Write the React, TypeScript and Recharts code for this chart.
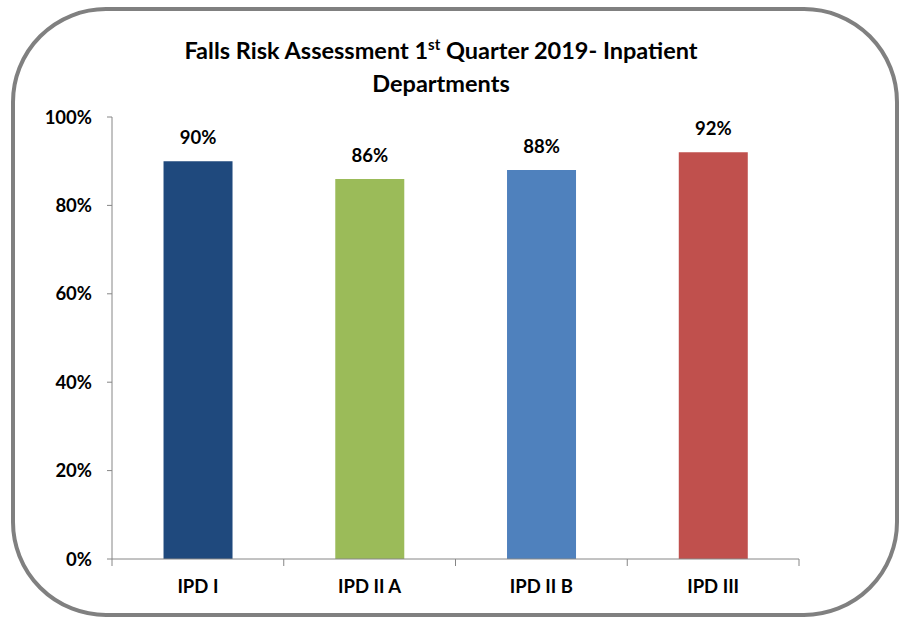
import { Bar, BarChart, XAxis, YAxis, Cell, LabelList } from "recharts"

const departments = ["IPD I", "IPD II A", "IPD II B", "IPD III"]
const compliance = [0.9, 0.86, 0.88, 0.92]
const yTicks = [0, 0.2, 0.4, 0.6, 0.8, 1]
const barColors = ["#1F497D", "#9BBB59", "#4F81BD", "#C0504D"]

const data = departments.map((name, i) => ({ name, value: compliance[i] }))

const FONT = "Lato, 'Open Sans', sans-serif"
const AXIS = "#868686"
const pct = (v: number) => `${Math.round(v * 100)}%`

function CategoryTick(props: any) {
  const { x, y, payload, index, visibleTicksCount } = props
  const half = payload?.offset ?? 86
  const top = y - 8
  return (
    <g>
      <line x1={x - half} y1={top} x2={x - half} y2={top + 7} stroke={AXIS} />
      {index === visibleTicksCount - 1 && (
        <line x1={x + half} y1={top} x2={x + half} y2={top + 7} stroke={AXIS} />
      )}
      <text x={x} y={y + 26} textAnchor="middle" fill="#000" fontSize={18.5} fontWeight={700} fontFamily={FONT}>
        {payload.value}
      </text>
    </g>
  )
}

export default function App() {
  return (
    <div style={{ position: "absolute", left: 0, top: 0, width: 904, height: 623, background: "#fff" }}>
      <div
        style={{
          position: "absolute",
          left: 11,
          top: 7,
          width: 880,
          height: 602,
          border: "4px solid #808080",
          borderRadius: 95,
        }}
      />
      <div
        style={{
          position: "absolute",
          left: 0,
          width: 882,
          top: 34,
          textAlign: "center",
          fontFamily: FONT,
          fontWeight: 700,
          fontSize: 23.5,
          lineHeight: "33px",
          color: "#000",
        }}
      >
        Falls Risk Assessment 1<sup style={{ fontSize: 15, lineHeight: 0 }}>st</sup> Quarter 2019- Inpatient
        <br />
        Departments
      </div>
      <div style={{ position: "absolute", left: 0, top: 0 }}>
        <BarChart
          width={904}
          height={623}
          data={data}
          margin={{ top: 117, right: 105, left: 0, bottom: 24 }}
          barCategoryGap="30%"
        >
          <YAxis
            width={112}
            domain={[0, 1]}
            ticks={yTicks}
            tickFormatter={pct}
            tickSize={5}
            tickMargin={15}
            axisLine={{ stroke: AXIS }}
            tickLine={{ stroke: AXIS }}
            tick={{ fill: "#000", fontSize: 18.5, fontWeight: 700, fontFamily: FONT }}
          />
          <XAxis
            dataKey="name"
            height={40}
            axisLine={{ stroke: AXIS }}
            tickLine={false}
            interval={0}
            tick={<CategoryTick />}
          />
          <Bar dataKey="value" isAnimationActive={false}>
            {data.map((d, i) => (
              <Cell key={d.name} fill={barColors[i]} />
            ))}
            <LabelList
              dataKey="value"
              position="top"
              offset={17}
              formatter={(v: any) => pct(Number(v))}
              style={{ fill: "#000", fontSize: 18.5, fontWeight: 700, fontFamily: FONT }}
            />
          </Bar>
        </BarChart>
      </div>
    </div>
  )
}
